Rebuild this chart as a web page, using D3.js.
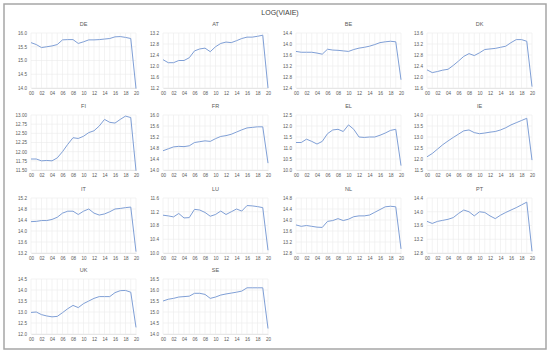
<!DOCTYPE html>
<html>
<head>
<meta charset="utf-8">
<script src="https://cdn.jsdelivr.net/npm/d3@7"></script>
<style>
  body { margin: 0; background: #fff; }
  text { font-family: "Liberation Sans", Arial, sans-serif; fill: #595959; }
  .grid line { stroke: #ebebeb; stroke-width: 0.6; }
  .series { fill: none; stroke: #7f9fd6; stroke-width: 1; }
</style>
</head>
<body>
<div class="wrapper"></div>
<script>
// years 2000..2020, labelled every second year
var years = d3.range(0, 21);
var yearLabels = ["00","02","04","06","08","10","12","14","16","18","20"];
var countries = ["DE","AT","BE","DK","FI","FR","EL","IE","IT","LU","NL","PT","UK","SE"];

// log(VIAIE) by country, 2000..2020
var DE = [15.65,15.58,15.47,15.50,15.53,15.58,15.75,15.76,15.76,15.62,15.68,15.75,15.75,15.76,15.78,15.80,15.86,15.87,15.84,15.80,13.98];
var AT = [12.23,12.12,12.12,12.20,12.20,12.30,12.55,12.62,12.65,12.52,12.70,12.82,12.87,12.85,12.92,13.00,13.05,13.05,13.08,13.12,11.20];
var BE = [13.73,13.70,13.70,13.70,13.67,13.63,13.81,13.78,13.77,13.75,13.73,13.80,13.85,13.88,13.92,13.98,14.05,14.08,14.10,14.08,12.70];
var DK = [12.26,12.16,12.20,12.25,12.28,12.42,12.58,12.75,12.85,12.78,12.88,13.00,13.02,13.04,13.08,13.12,13.25,13.36,13.36,13.30,11.65];
var FI = [11.80,11.80,11.75,11.76,11.75,11.83,12.00,12.20,12.38,12.36,12.42,12.52,12.57,12.70,12.88,12.80,12.78,12.88,12.97,12.93,11.48];
var FR = [14.70,14.77,14.84,14.86,14.85,14.88,15.00,15.03,15.06,15.04,15.14,15.22,15.25,15.30,15.38,15.46,15.53,15.55,15.57,15.57,14.25];
var EL = [11.25,11.25,11.40,11.30,11.18,11.30,11.65,11.82,11.85,11.75,12.05,11.85,11.50,11.48,11.50,11.50,11.58,11.68,11.80,11.85,10.20];
var IE = [12.10,12.25,12.45,12.65,12.82,12.98,13.13,13.28,13.32,13.20,13.15,13.18,13.22,13.25,13.32,13.42,13.55,13.65,13.75,13.85,11.95];
var IT = [14.34,14.35,14.38,14.38,14.42,14.50,14.65,14.72,14.72,14.60,14.72,14.80,14.65,14.58,14.62,14.70,14.80,14.82,14.85,14.87,13.25];
var LU = [11.10,11.08,11.05,11.15,11.02,11.03,11.27,11.25,11.18,11.07,11.12,11.22,11.12,11.20,11.28,11.22,11.38,11.37,11.35,11.32,10.08];
var NL = [13.82,13.77,13.80,13.77,13.74,13.73,13.95,13.98,14.05,13.98,14.03,14.12,14.15,14.15,14.18,14.28,14.38,14.48,14.50,14.48,12.95];
var PT = [13.72,13.66,13.72,13.75,13.78,13.83,13.95,14.05,14.00,13.88,14.00,13.98,13.88,13.80,13.90,13.98,14.05,14.12,14.20,14.28,12.85];
var UK = [12.98,13.00,12.88,12.82,12.78,12.80,12.97,13.15,13.30,13.20,13.38,13.50,13.62,13.70,13.70,13.70,13.88,13.97,13.98,13.90,12.30];
var SE = [15.50,15.58,15.62,15.68,15.70,15.72,15.85,15.85,15.80,15.62,15.68,15.77,15.82,15.86,15.90,15.95,16.10,16.10,16.10,16.10,14.25];

// y axis ticks of each panel
var DE_TICKS = [14.0,14.5,15.0,15.5,16.0];
var AT_TICKS = [11.2,11.6,12.0,12.4,12.8,13.2];
var BE_TICKS = [12.4,12.8,13.2,13.6,14.0,14.4];
var DK_TICKS = [11.6,12.0,12.4,12.8,13.2,13.6];
var FI_TICKS = [11.50,11.75,12.00,12.25,12.50,12.75,13.00];
var FR_TICKS = [14.0,14.4,14.8,15.2,15.6,16.0];
var EL_TICKS = [10.0,10.5,11.0,11.5,12.0,12.5];
var IE_TICKS = [11.5,12.0,12.5,13.0,13.5,14.0];
var IT_TICKS = [13.2,13.6,14.0,14.4,14.8,15.2];
var LU_TICKS = [10.0,10.4,10.8,11.2,11.6];
var NL_TICKS = [12.8,13.2,13.6,14.0,14.4,14.8];
var PT_TICKS = [12.8,13.2,13.6,14.0,14.4];
var UK_TICKS = [12.0,12.5,13.0,13.5,14.0,14.5];
var SE_TICKS = [14.0,14.5,15.0,15.5,16.0,16.5];

var seriesByName = {DE:DE, AT:AT, BE:BE, DK:DK, FI:FI, FR:FR, EL:EL, IE:IE, IT:IT, LU:LU, NL:NL, PT:PT, UK:UK, SE:SE};
var ticksByName = {DE:DE_TICKS, AT:AT_TICKS, BE:BE_TICKS, DK:DK_TICKS, FI:FI_TICKS, FR:FR_TICKS, EL:EL_TICKS,
    IE:IE_TICKS, IT:IT_TICKS, LU:LU_TICKS, NL:NL_TICKS, PT:PT_TICKS, UK:UK_TICKS, SE:SE_TICKS};
var decimals = {FI: 2};

var width = 550,
    height = 352;

var svg = d3.select(".wrapper").append("svg")
    .attr("width", width)
    .attr("height", height);

// outer frame
svg.append("rect")
    .attr("x", 4).attr("y", 4)
    .attr("width", 542).attr("height", 345)
    .attr("fill", "none")
    .attr("stroke", "#a6a6a6")
    .attr("stroke-width", 1.5);

svg.append("text")
    .attr("x", 280).attr("y", 15)
    .attr("text-anchor", "middle")
    .style("font-size", "7px")
    .style("fill", "#404040")
    .text("LOG(VIAIE)");

// panel grid
var colX = [31, 163, 296, 427],
    rowY = [33, 115, 198, 279],
    plotW = 105,
    plotH = 55;

countries.forEach(function(name, i) {
    var left = colX[i % 4],
        top = rowY[Math.floor(i / 4)],
        ticks = ticksByName[name],
        values = seriesByName[name];

    var x = d3.scaleLinear().domain([0, 20]).range([0, plotW]);
    var y = d3.scaleLinear().domain(d3.extent(ticks)).range([plotH, 0]);

    var g = svg.append("g").attr("transform", "translate(" + left + "," + top + ")");

    // gridlines
    var grid = g.append("g").attr("class", "grid");
    grid.selectAll("line.h").data(ticks).enter().append("line")
        .attr("class", "h")
        .attr("x1", 0).attr("x2", plotW)
        .attr("y1", function(d) { return y(d); })
        .attr("y2", function(d) { return y(d); });
    grid.selectAll("line.v").data(years).enter().append("line")
        .attr("class", "v")
        .attr("x1", function(d) { return x(d); })
        .attr("x2", function(d) { return x(d); })
        .attr("y1", 0).attr("y2", plotH);

    // axes
    var yAxis = d3.axisLeft(y).tickValues(ticks).tickSize(0).tickPadding(4)
        .tickFormat(d3.format("." + (decimals[name] || 1) + "f"));
    g.append("g").call(yAxis)
        .call(function(a) { a.select(".domain").remove(); })
        .selectAll("text").style("font-size", "4.6px");

    var xAxis = d3.axisBottom(x).tickValues(d3.range(0, 21, 2)).tickSize(0).tickPadding(4)
        .tickFormat(function(d, k) { return yearLabels[k]; });
    g.append("g").attr("transform", "translate(0," + plotH + ")").call(xAxis)
        .call(function(a) { a.select(".domain").attr("stroke", "#d9d9d9").attr("stroke-width", 0.6); })
        .selectAll("text").style("font-size", "4.6px");

    // panel title
    g.append("text")
        .attr("x", plotW / 2).attr("y", -7)
        .attr("text-anchor", "middle")
        .style("font-size", "5.5px")
        .text(name);

    var line = d3.line()
        .x(function(d, k) { return x(years[k]); })
        .y(function(d) { return y(d); });

    g.append("path")
        .datum(values)
        .attr("class", "series")
        .attr("d", line);
});
</script>
</body>
</html>
